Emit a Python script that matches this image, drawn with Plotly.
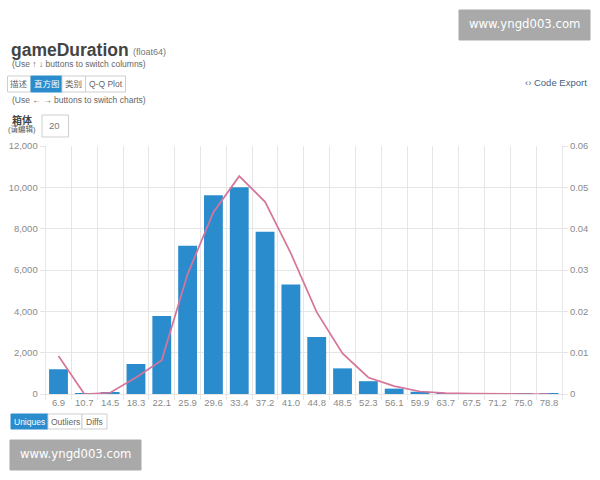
import plotly.graph_objects as go

WIDTH = 600
HEIGHT = 480

bin_labels = ['6.9', '10.7', '14.5', '18.3', '22.1', '25.9', '29.6', '33.4', '37.2', '41.0',
              '44.8', '48.5', '52.3', '56.1', '59.9', '63.7', '67.5', '71.2', '75.0', '78.8']
counts = [1200, 10, 80, 1450, 3780, 7170, 9620, 10000, 7850, 5300,
          2760, 1240, 620, 260, 110, 30, 10, 5, 2, 1]
density = [0.0092, 0.0, 0.0003, 0.004, 0.0082, 0.029, 0.044, 0.0527, 0.0465, 0.034,
           0.0198, 0.0098, 0.004, 0.0019, 0.0006, 0.0002, 0.0001, 0.0, 0.0, 0.0]
count_ticks = [0, 2000, 4000, 6000, 8000, 10000, 12000]
density_ticks = [0, 0.01, 0.02, 0.03, 0.04, 0.05, 0.06]

BLUE = '#2b8ccd'
PINK = '#d6759b'
GRID = '#e6e6e6'
TICK_TEXT = '#8a8a8a'
FONT = 'Liberation Sans, Noto Sans CJK SC'


def px_x(x):
    return x / WIDTH


def px_y(y):
    return 1 - y / HEIGHT


def add_text(fig, x, y, text, size, color='#555555', anchor='left', family=FONT):
    fig.add_annotation(xref='paper', yref='paper', x=px_x(x), y=px_y(y), text=text, showarrow=False,
                       xanchor=anchor, yanchor='middle', borderpad=0,
                       font=dict(size=size, color=color, family=family))


def add_box(fig, x0, y0, x1, y1, fill='#ffffff', line='#cfcfcf'):
    fig.add_shape(type='rect', xref='paper', yref='paper', x0=px_x(x0), x1=px_x(x1), y0=px_y(y0), y1=px_y(y1),
                  fillcolor=fill, line=dict(color=line, width=1))


def add_button_group(fig, y0, y1, edges, names, active):
    for i, name in enumerate(names):
        on = i == active
        add_box(fig, edges[i], y0, edges[i + 1], y1, fill=BLUE if on else '#ffffff', line=BLUE if on else '#cfcfcf')
        add_text(fig, (edges[i] + edges[i + 1]) / 2, (y0 + y1) / 2, name, 8.5,
                 color='#ffffff' if on else '#666666', anchor='center')


def add_watermark(fig, x0, y0):
    add_box(fig, x0, y0, x0 + 131, y0 + 30, fill='#a9a9a9', line='#a9a9a9')
    add_text(fig, x0 + 65.5, y0 + 14, 'www.yngd003.com', 11.7, color='#ffffff', anchor='center', family='DejaVu Sans')


fig = go.Figure()
fig.add_trace(go.Bar(x=bin_labels, y=counts, marker=dict(color=BLUE, line_width=0), yaxis='y'))
fig.add_trace(go.Scatter(x=bin_labels, y=density, mode='lines', line=dict(color=PINK, width=1.7), yaxis='y2'))

fig.update_layout(
    width=WIDTH, height=HEIGHT, margin=dict(l=0, r=0, t=0, b=0, autoexpand=False),
    paper_bgcolor='#ffffff', plot_bgcolor='#ffffff', showlegend=False, bargap=0.27,
    font=dict(family=FONT, size=9.5, color=TICK_TEXT),
    xaxis=dict(type='category', domain=[px_x(45.6), px_x(562)], tickson='boundaries', showgrid=True,
               gridcolor=GRID, ticks='outside', ticklen=5, tickcolor=GRID, showline=True, linecolor=GRID,
               tickangle=0, tickfont=dict(size=9.5, color=TICK_TEXT), fixedrange=True),
    yaxis=dict(domain=[px_y(394), px_y(146)], range=[0, 12000], tickvals=count_ticks, tickformat=',d',
               showgrid=True, gridcolor=GRID, zeroline=False, ticks='outside', ticklen=5, tickcolor=GRID,
               showline=True, linecolor=GRID, tickfont=dict(size=9.5, color=TICK_TEXT)),
    yaxis2=dict(overlaying='y', side='right', range=[0, 0.06], tickvals=density_ticks,
                tickformat='.2~f', showgrid=False, zeroline=False, ticks='outside', ticklen=5, tickcolor=GRID,
                showline=True, linecolor=GRID, tickfont=dict(size=9.5, color=TICK_TEXT)),
)

# header and buttons around the chart
add_text(fig, 10, 50, '<b>gameDuration</b>', 17.5, color='#444444')
add_text(fig, 132, 52, '(float64)', 9, color='#777777')
add_text(fig, 11, 64, '(Use ↑ ↓ buttons to switch columns)', 8.5, color='#666666')
add_button_group(fig, 76, 92, [7.5, 31, 62, 85.5, 125.5], ['描述', '直方图', '类别', 'Q-Q Plot'], 1)
add_text(fig, 11, 100, '(Use ← → buttons to switch charts)', 8.5, color='#666666')
add_text(fig, 22, 120, '<b>箱体</b>', 10, color='#444444', anchor='center')
add_text(fig, 22, 129, '(请编辑)', 7.5, color='#555555', anchor='center')
add_box(fig, 42, 115, 68.5, 137)
add_text(fig, 55, 126, '20', 9.5, color='#777777', anchor='center')
add_text(fig, 588, 82, '‹› Code Export', 9.5, color='#3f5f85', anchor='right')
add_button_group(fig, 414, 429, [11, 48, 82, 107], ['Uniques', 'Outliers', 'Diffs'], 0)
add_watermark(fig, 459, 10)
add_watermark(fig, 10, 440)

fig.write_html('out.html', config={'displayModeBar': False}, post_script="document.body.style.margin='0';")
